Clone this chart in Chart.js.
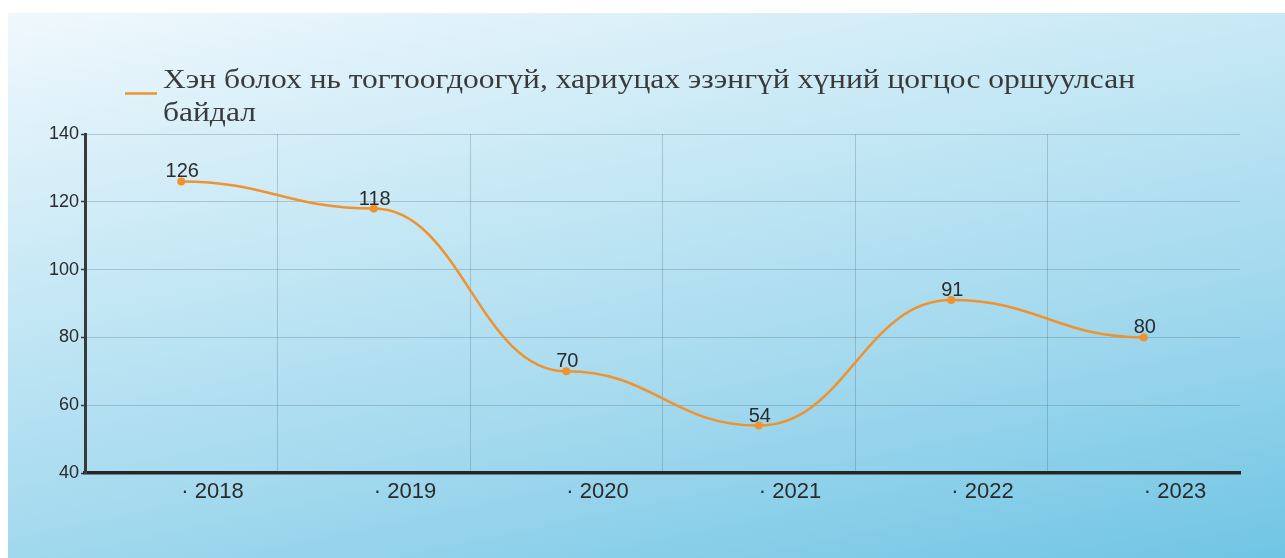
<!DOCTYPE html>
<html>
<head>
<meta charset="utf-8">
<script src="https://cdn.jsdelivr.net/npm/chart.js@4.4.1/dist/chart.umd.min.js"></script>
<style>
  html, body { margin: 0; padding: 0; background: #fff; }
  body { width: 1285px; height: 558px; position: relative; overflow: hidden; }
  #panel {
    position: absolute; left: 8px; top: 13px; right: 0; bottom: 0;
    background: linear-gradient(168deg, #f0f8fd 0%, #c6e8f5 35%, #a3d9ee 65%, #70c5e4 100%);
  }
  #wrap { position: absolute; left: 0; top: 0; width: 1285px; height: 558px; }
</style>
</head>
<body>
<div id="panel"></div>
<div id="wrap"><canvas id="chart" width="1285" height="558"></canvas></div>
<script>
const years = ['2018', '2019', '2020', '2021', '2022', '2023'];
const buried = [126, 118, 70, 54, 91, 80];
const seriesName = 'Хэн болох нь тогтоогдоогүй, хариуцах эзэнгүй хүний цогцос оршуулсан байдал';
const yTicks = [40, 60, 80, 100, 120, 140];

const orange = '#f0922e';
const sans = "'Liberation Sans', Arial, sans-serif";

// smooth curve with flat tangents at every point
const flatCurves = {
    id: 'flatCurves',
    beforeDatasetsDraw(chart) {
        chart.data.datasets.forEach((ds, i) => {
            const meta = chart.getDatasetMeta(i);
            meta.dataset.updateControlPoints(chart.chartArea, 'x');
            const pts = meta.data;
            pts.forEach((p, j) => {
                const prev = pts[j - 1], next = pts[j + 1];
                p.cp1x = prev ? p.x - (p.x - prev.x) * 0.45 : p.x;
                p.cp1y = p.y;
                p.cp2x = next ? p.x + (next.x - p.x) * 0.45 : p.x;
                p.cp2y = p.y;
            });
        });
    }
};

// numbers above the points
const valueLabels = {
    id: 'valueLabels',
    afterDatasetsDraw(chart) {
        const ctx = chart.ctx;
        ctx.save();
        ctx.font = '20px ' + sans;
        ctx.fillStyle = '#2b2b2b';
        ctx.textAlign = 'center';
        ctx.textBaseline = 'alphabetic';
        chart.getDatasetMeta(0).data.forEach((p, i) => {
            ctx.fillText(String(chart.data.datasets[0].data[i]), p.x + 1, p.y - 4);
        });
        ctx.restore();
    }
};

// legend, text wrapped onto two lines
const wrapLegend = {
    id: 'wrapLegend',
    afterDraw(chart) {
        const ctx = chart.ctx;
        const ds = chart.data.datasets[0];
        ctx.save();
        ctx.strokeStyle = ds.borderColor;
        ctx.lineWidth = 2.5;
        ctx.beginPath();
        ctx.moveTo(125, 93.5);
        ctx.lineTo(157, 93.5);
        ctx.stroke();

        ctx.font = "28px 'Liberation Serif', 'Times New Roman', serif";
        ctx.fillStyle = '#3a3a3a';
        ctx.textAlign = 'left';
        ctx.textBaseline = 'alphabetic';
        const words = ds.label.split(' ');
        const first = words.slice(0, -1).join(' ');
        const second = words[words.length - 1];
        const sx = 972 / ctx.measureText(first).width;
        ctx.translate(163, 0);
        ctx.scale(sx, 1);
        ctx.fillText(first, 0, 88);
        ctx.fillText(second, 0, 121);
        ctx.restore();
    }
};

new Chart(document.getElementById('chart'), {
    type: 'line',
    data: {
        labels: years,
        datasets: [{
            label: seriesName,
            data: buried,
            borderColor: orange,
            backgroundColor: orange,
            borderWidth: 2.5,
            pointRadius: 4,
            pointBackgroundColor: orange,
            pointBorderWidth: 0,
            tension: 0.4,
            fill: false
        }]
    },
    options: {
        responsive: false,
        animation: false,
        layout: { padding: { left: 0, top: 134, right: 45, bottom: 0 } },
        plugins: {
            legend: { display: false },
            tooltip: { enabled: false }
        },
        scales: {
            x: {
                offset: true,
                afterFit: s => { s.height = 85; },
                grid: {
                    offset: true,
                    drawTicks: false,
                    lineWidth: 1,
                    color: c => (c.type !== 'tick' || c.index === 0) ? 'rgba(0,0,0,0)' : 'rgba(70,100,115,0.28)'
                },
                border: { display: true, color: '#262626', width: 3.5 },
                ticks: {
                    align: 'start',
                    padding: 6,
                    maxRotation: 0,
                    autoSkip: false,
                    color: '#2b2b2b',
                    font: { family: sans, size: 22 },
                    callback: function(v, i) { return '· ' + years[i]; }
                }
            },
            y: {
                min: 40,
                max: 140,
                afterFit: s => { s.width = 85; },
                afterBuildTicks: s => { s.ticks = yTicks.map(v => ({ value: v })); },
                grid: {
                    lineWidth: 1,
                    color: 'rgba(70,100,115,0.28)',
                    tickLength: 4,
                    tickColor: '#3a3a3a',
                    tickWidth: 1.5
                },
                border: { display: true, color: '#3a3a3a', width: 3 },
                ticks: {
                    padding: 2,
                    color: '#2b2b2b',
                    font: { family: sans, size: 18 }
                }
            }
        }
    },
    plugins: [flatCurves, valueLabels, wrapLegend]
});
</script>
</body>
</html>
